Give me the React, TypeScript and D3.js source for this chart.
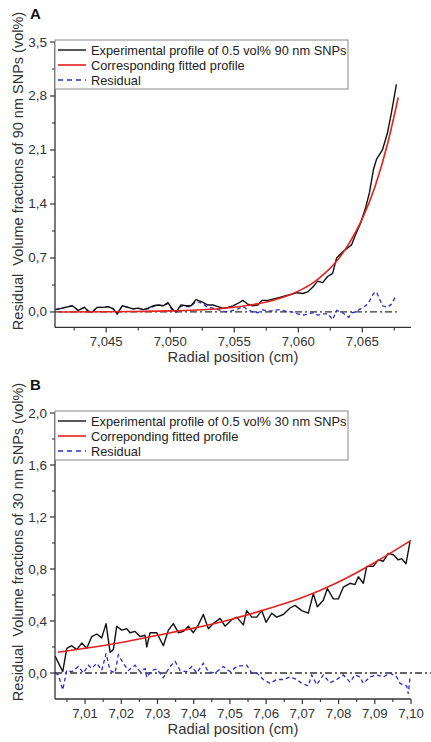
import React from "react";
import * as d3 from "d3";

// ---------- Panel A data ----------
const xA = [7.04103, 7.04157, 7.04235, 7.04282, 7.04329, 7.0436, 7.04391, 7.0443, 7.04477, 7.04516, 7.04555, 7.04586, 7.04625, 7.04671, 7.0471, 7.04749, 7.04788, 7.04827, 7.04866, 7.04905, 7.04944, 7.04983, 7.05014, 7.05045, 7.05084, 7.05123, 7.05162, 7.05201, 7.05248, 7.05294, 7.05333, 7.05372, 7.05411, 7.0545, 7.05489, 7.05528, 7.05567, 7.05606, 7.05645, 7.05684, 7.05715, 7.05762, 7.05808, 7.05855, 7.05902, 7.05949, 7.05988, 7.06034, 7.06073, 7.06112, 7.06151, 7.0619, 7.06229, 7.06268, 7.06299, 7.06346, 7.06393, 7.06416, 7.06447, 7.06486, 7.06525, 7.06556, 7.06587, 7.06611, 7.06657, 7.06696, 7.06727, 7.06766];
const expA = [0.03, 0.05, 0.08, 0.02, 0.06, 0.01, 0.0, 0.06, 0.06, 0.07, 0.04, -0.02, 0.08, 0.06, 0.04, 0.05, 0.03, 0.05, 0.08, 0.09, 0.08, 0.12, 0.04, 0.0, 0.09, 0.08, 0.08, 0.16, 0.13, 0.09, 0.09, 0.07, 0.05, 0.06, 0.08, 0.11, 0.15, 0.1, 0.08, 0.09, 0.15, 0.15, 0.17, 0.19, 0.21, 0.23, 0.25, 0.24, 0.26, 0.32, 0.4, 0.38, 0.46, 0.5, 0.7, 0.78, 0.84, 0.87, 1.0, 1.15, 1.35, 1.55, 1.85, 1.98, 2.1, 2.32, 2.58, 2.95];
const resA = [0.03, 0.05, 0.08, 0.02, 0.06, 0.01, 0.0, 0.06, 0.06, 0.07, 0.04, -0.03, 0.08, 0.06, 0.04, 0.05, 0.03, 0.04, 0.07, 0.09, 0.08, 0.11, 0.03, 0.0, 0.08, 0.07, 0.07, 0.14, 0.11, 0.06, 0.05, 0.03, 0.01, 0.0, 0.02, 0.04, 0.07, 0.03, 0.0, -0.01, 0.03, 0.01, 0.02, 0.03, 0.01, 0.0, -0.02, -0.04, -0.03, -0.01, -0.04, -0.03, -0.02, -0.1, 0.02, -0.01, -0.07, -0.01, 0.0, 0.04, 0.08, 0.14, 0.24, 0.26, 0.08, 0.06, 0.1, 0.22];
const fitAx = [7.0413, 7.045, 7.048, 7.05, 7.052, 7.054, 7.056, 7.058, 7.059, 7.06, 7.061, 7.062, 7.063, 7.064, 7.065, 7.066, 7.067, 7.0678];
const fitAy = [0.0, 0.003, 0.008, 0.014, 0.025, 0.046, 0.083, 0.15, 0.2, 0.27, 0.36, 0.49, 0.66, 0.9, 1.21, 1.63, 2.2, 2.78];
const zeroA = [7.041, 7.0677];
const yTicksA = [0, 0.7, 1.4, 2.1, 2.8, 3.5];
const yMinorA = [0.35, 1.05, 1.75, 2.45, 3.15];
const xTicksA = [7.045, 7.05, 7.055, 7.06, 7.065];
const xMinorA = [7.0425, 7.0475, 7.0525, 7.0575, 7.0625, 7.0675];
const legendA = ["Experimental profile of 0.5 vol% 90 nm SNPs", "Corresponding fitted profile", "Residual"];

// ---------- Panel B data ----------
const xB = [7.00172, 7.00384, 7.00495, 7.00633, 7.00771, 7.00909, 7.01047, 7.01185, 7.01323, 7.01461, 7.0158, 7.0169, 7.01781, 7.01875, 7.02013, 7.02151, 7.02242, 7.0238, 7.02518, 7.02657, 7.02703, 7.02795, 7.0298, 7.03162, 7.033, 7.03438, 7.03576, 7.03714, 7.03852, 7.0399, 7.04128, 7.04266, 7.04404, 7.04542, 7.04727, 7.04865, 7.0505, 7.05188, 7.0537, 7.05464, 7.05602, 7.0574, 7.05878, 7.05997, 7.06155, 7.06293, 7.06475, 7.0666, 7.06798, 7.06983, 7.07165, 7.07303, 7.07414, 7.07579, 7.0769, 7.07855, 7.07993, 7.08131, 7.08316, 7.08454, 7.08546, 7.08684, 7.08777, 7.0896, 7.09098, 7.09236, 7.09374, 7.09512, 7.0965, 7.09744, 7.09862, 7.09973];
const expB = [0.13, 0.01, 0.19, 0.21, 0.18, 0.23, 0.19, 0.28, 0.3, 0.27, 0.38, 0.16, 0.18, 0.36, 0.33, 0.34, 0.31, 0.32, 0.28, 0.29, 0.2, 0.31, 0.31, 0.21, 0.33, 0.38, 0.31, 0.32, 0.36, 0.31, 0.37, 0.45, 0.34, 0.38, 0.42, 0.36, 0.41, 0.43, 0.37, 0.48, 0.43, 0.43, 0.48, 0.39, 0.46, 0.43, 0.45, 0.5, 0.52, 0.48, 0.46, 0.61, 0.51, 0.56, 0.65, 0.57, 0.57, 0.66, 0.69, 0.68, 0.74, 0.69, 0.82, 0.82, 0.87, 0.86, 0.92, 0.91, 0.87, 0.88, 0.84, 1.01];
const resBx = [7.00172, 7.00263, 7.00384, 7.00495, 7.00633, 7.00815, 7.00953, 7.01091, 7.01185, 7.01323, 7.01461, 7.0158, 7.0169, 7.01828, 7.01919, 7.02057, 7.02195, 7.0238, 7.02518, 7.02657, 7.02703, 7.02842, 7.0298, 7.03162, 7.03347, 7.03485, 7.03623, 7.03808, 7.03946, 7.04084, 7.04266, 7.04404, 7.04589, 7.04818, 7.05003, 7.05188, 7.05464, 7.05602, 7.0574, 7.05923, 7.06108, 7.06293, 7.06475, 7.0666, 7.06845, 7.06983, 7.07165, 7.07259, 7.07397, 7.07579, 7.07764, 7.07949, 7.08131, 7.08316, 7.08454, 7.08593, 7.08684, 7.08869, 7.09054, 7.09236, 7.09421, 7.09606, 7.09697, 7.09882, 7.09926, 7.09973];
const resBy = [0.0, -0.015, -0.13, 0.02, 0.01, 0.05, 0.0, 0.06, 0.035, 0.075, 0.02, 0.15, 0.02, 0.0, 0.14, 0.075, 0.02, 0.06, 0.01, 0.035, -0.035, 0.02, 0.03, -0.035, 0.05, 0.09, 0.02, 0.01, 0.05, 0.0, 0.075, 0.01, 0.0, 0.05, 0.01, 0.05, 0.06, 0.0, 0.0, -0.05, -0.08, -0.05, -0.05, -0.03, -0.05, -0.08, -0.1, -0.015, -0.09, -0.015, -0.075, -0.05, -0.015, -0.07, -0.015, -0.03, -0.08, -0.03, -0.015, -0.03, 0.0, -0.03, -0.08, -0.1, -0.16, -0.03];
const fitBx = [7.0025, 7.01, 7.02, 7.03, 7.04, 7.05, 7.06, 7.07, 7.08, 7.09, 7.1];
const fitBy = [0.16, 0.19, 0.235, 0.29, 0.345, 0.41, 0.49, 0.58, 0.7, 0.85, 1.02];
const zeroB = [7.0017, 7.1055];
const yTicksB = [0, 0.4, 0.8, 1.2, 1.6, 2.0];
const yMinorB = [0.2, 0.6, 1.0, 1.4, 1.8];
const xTicksB = [7.01, 7.02, 7.03, 7.04, 7.05, 7.06, 7.07, 7.08, 7.09, 7.1];
const xMinorB = [7.005, 7.015, 7.025, 7.035, 7.045, 7.055, 7.065, 7.075, 7.085, 7.095];
const legendB = ["Experimental profile of 0.5 vol% 30 nm SNPs", "Correponding fitted profile", "Residual"];

const FONT = "'Liberation Sans', Arial, sans-serif";
const TXT = "#333";

type PanelProps = {
  label: string;
  top: number;
  bottom: number;
  xDomain: [number, number];
  yDomain: [number, number];
  xTicks: number[];
  xMinor: number[];
  xDigits: number;
  yTicks: number[];
  yMinor: number[];
  expX: number[];
  expY: number[];
  resX: number[];
  resY: number[];
  fitX: number[];
  fitY: number[];
  zero: number[];
  legend: string[];
  yTitle: string;
};

function Panel(p: PanelProps) {
  const left = 55;
  const right = 411;
  const x = d3.scaleLinear().domain(p.xDomain).range([left, right]);
  const y = d3.scaleLinear().domain(p.yDomain).range([p.bottom, p.top]);
  const line = (xs: number[], ys: number[], curve = d3.curveLinear) =>
    d3
      .line<number>()
      .x((_, i) => x(xs[i]))
      .y((v) => y(v))
      .curve(curve)(ys) || "";
  const fmtX = (v: number) => v.toFixed(p.xDigits).replace(".", ",");
  const fmtY = (v: number) => v.toFixed(1).replace(".", ",");
  const legTop = p.top - 2;
  const rows = [legTop + 10, legTop + 25, legTop + 40];
  return (
    <g>
      <text x={30} y={p.top - 23} fontFamily={FONT} fontWeight="bold" fontSize={15} fill="#111">
        {p.label}
      </text>
      <text
        transform={`translate(18,${p.top - 42 + 171})rotate(-90)`}
        textAnchor="middle"
        dominantBaseline="central"
        fontFamily={FONT}
        fontSize={14.5}
        fill={TXT}
        style={{ whiteSpace: "pre" }}
      >
        {p.yTitle}
      </text>
      <text x={(left + right) / 2} y={p.bottom + 35} textAnchor="middle" fontFamily={FONT} fontSize={14.8} fill={TXT}>
        Radial position (cm)
      </text>
      <path d={line(p.zero, [0, 0])} stroke="#333" strokeWidth={1.3} strokeDasharray="7,3,2,3" fill="none" />
      <path d={line(p.resX, p.resY)} stroke="#2b2bd0" strokeWidth={1.3} strokeDasharray="4,3" fill="none" />
      <path d={line(p.expX, p.expY)} stroke="#111" strokeWidth={1.4} fill="none" strokeLinejoin="round" />
      <path d={line(p.fitX, p.fitY, d3.curveMonotoneX)} stroke="#e3211f" strokeWidth={1.6} fill="none" />
      <line x1={left} x2={left} y1={p.top} y2={p.bottom} stroke="#333" strokeWidth={1.3} />
      <line x1={left} x2={right} y1={p.bottom} y2={p.bottom} stroke="#333" strokeWidth={1.3} />
      {p.yTicks.map((t) => (
        <g key={"yt" + t}>
          <line x1={left - 5} x2={left} y1={y(t)} y2={y(t)} stroke="#333" strokeWidth={1.2} />
          <text x={left - 8} y={y(t)} textAnchor="end" dominantBaseline="central" fontFamily={FONT} fontSize={13.5} fill={TXT}>
            {fmtY(t)}
          </text>
        </g>
      ))}
      {p.yMinor.map((t) => (
        <line key={"ym" + t} x1={left - 3} x2={left} y1={y(t)} y2={y(t)} stroke="#333" strokeWidth={1.1} />
      ))}
      {p.xTicks.map((t) => (
        <g key={"xt" + t}>
          <line x1={x(t)} x2={x(t)} y1={p.bottom} y2={p.bottom + 5} stroke="#333" strokeWidth={1.2} />
          <text x={x(t)} y={p.bottom + 19} textAnchor="middle" fontFamily={FONT} fontSize={13.2} fill={TXT}>
            {fmtX(t)}
          </text>
        </g>
      ))}
      {p.xMinor.map((t) => (
        <line key={"xm" + t} x1={x(t)} x2={x(t)} y1={p.bottom} y2={p.bottom + 3} stroke="#333" strokeWidth={1.1} />
      ))}
      <rect x={left} y={legTop} width={293} height={49} fill="white" stroke="#888" strokeWidth={1} />
      <line x1={58} x2={86} y1={rows[0]} y2={rows[0]} stroke="#111" strokeWidth={1.4} />
      <line x1={58} x2={86} y1={rows[1]} y2={rows[1]} stroke="#e3211f" strokeWidth={1.6} />
      <line x1={58} x2={86} y1={rows[2]} y2={rows[2]} stroke="#2b2bd0" strokeWidth={1.3} strokeDasharray="5,4" />
      {p.legend.map((s, i) => (
        <text key={s} x={91} y={rows[i]} dominantBaseline="central" fontFamily={FONT} fontSize={12.8} fill="#222">
          {s}
        </text>
      ))}
    </g>
  );
}

export default function App() {
  return (
    <svg width={431} height={742} style={{ position: "absolute", left: 0, top: 0, background: "white" }}>
      <rect width={431} height={742} fill="white" />
      <Panel
        label="A"
        top={42}
        bottom={327.4}
        xDomain={[7.041, 7.0688]}
        yDomain={[-0.2, 3.5]}
        xTicks={xTicksA}
        xMinor={xMinorA}
        xDigits={3}
        yTicks={yTicksA}
        yMinor={yMinorA}
        expX={xA}
        expY={expA}
        resX={xA}
        resY={resA}
        fitX={fitAx}
        fitY={fitAy}
        zero={zeroA}
        legend={legendA}
        yTitle={"Residual  Volume fractions of 90 nm SNPs (vol%)"}
      />
      <Panel
        label="B"
        top={413}
        bottom={699}
        xDomain={[7.0017, 7.1]}
        yDomain={[-0.2, 2.0]}
        xTicks={xTicksB}
        xMinor={xMinorB}
        xDigits={2}
        yTicks={yTicksB}
        yMinor={yMinorB}
        expX={xB}
        expY={expB}
        resX={resBx}
        resY={resBy}
        fitX={fitBx}
        fitY={fitBy}
        zero={zeroB}
        legend={legendB}
        yTitle={"Residual  Volume fractions of 30 nm SNPs (vol%)"}
      />
    </svg>
  );
}
